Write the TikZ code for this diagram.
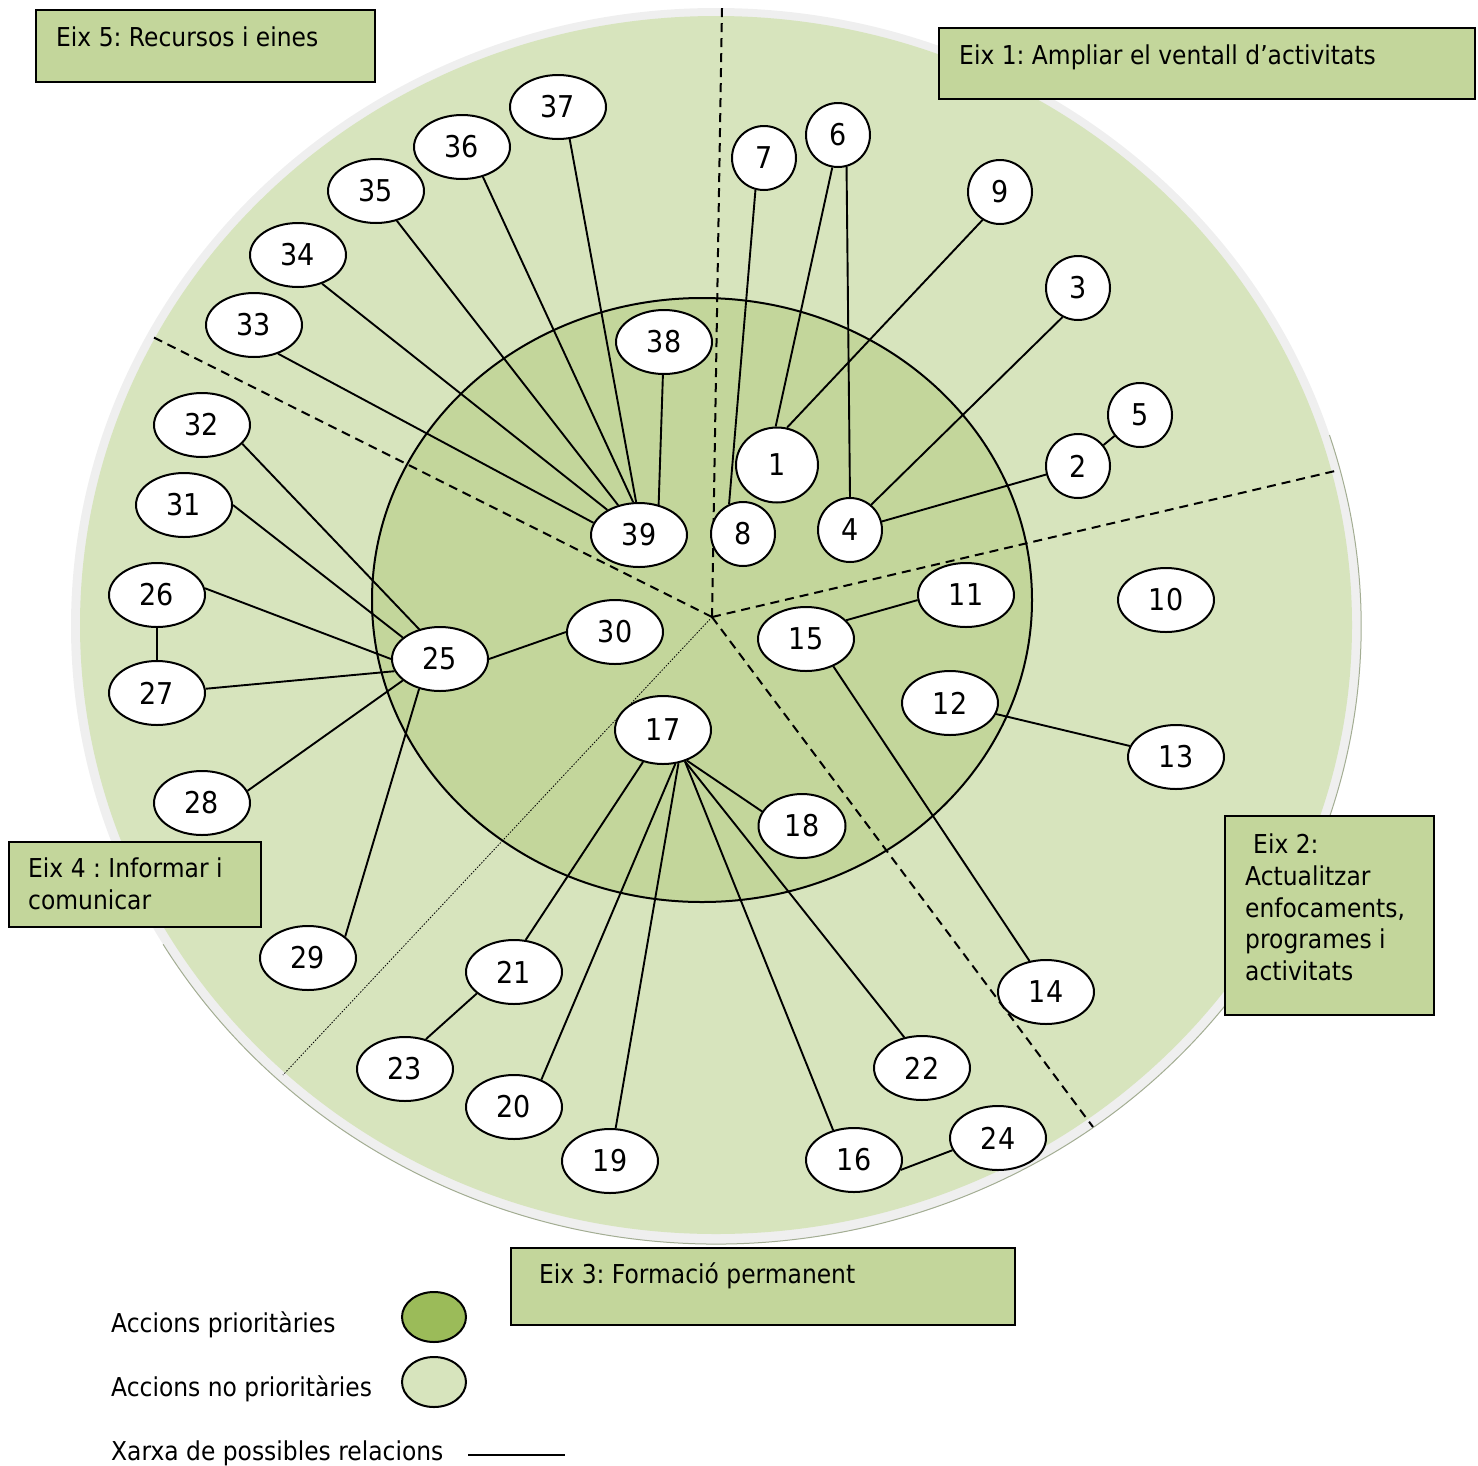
\documentclass[tikz,border=0pt]{standalone}
\usepackage{fontspec}
\setmainfont[FakeStretch=0.9]{DejaVu Sans}
\usetikzlibrary{shapes.geometric}
\definecolor{outerg}{HTML}{D7E4BD}
\definecolor{innerg}{HTML}{C3D69B}
\definecolor{prio}{HTML}{9BBB59}
\definecolor{ringg}{HTML}{EFEFEF}
\definecolor{rimg}{HTML}{A3AD93}
\tikzset{
  num/.style={ellipse, draw, line width=2pt, fill=white, inner sep=0pt,
    minimum width=96pt, minimum height=64pt, font=\fontsize{30}{30}\selectfont},
  onedig/.style={num, minimum width=64pt, minimum height=64pt},
  rel/.style={line width=1.9pt},
  sector/.style={line width=2pt, dash pattern=on 9pt off 6pt},
  sectordot/.style={line width=0.8pt, dash pattern=on 1.5pt off 1.5pt},
  axisbox/.style={draw, line width=2pt, fill=innerg, inner sep=0pt, anchor=north west},
  lbl/.style={anchor=base west, inner sep=0pt, font=\fontsize{26}{32}\selectfont}
}
\frenchspacing
\begin{document}
\begin{tikzpicture}[x=1pt,y=-1pt]
\useasboundingbox (0,0) rectangle (1478,1465);
% background rings
\fill[ringg] (716,626) ellipse [x radius=645, y radius=618];
\fill[outerg] (716,625) ellipse [x radius=636, y radius=609];
\draw[rimg, line width=1pt] (716,626) ++(-18:645 and 618) arc[start angle=-18, end angle=149, x radius=645, y radius=618];
\draw[line width=2pt, fill=innerg] (702,600) ellipse [x radius=330, y radius=302];
% sector lines
\coordinate (c0) at (712,617);
\coordinate (cT) at (722,8);
\coordinate (cR) at (1335,471);
\coordinate (cBR) at (1093,1127);
\coordinate (cL) at (153,337);
\coordinate (cBL) at (283,1075);
\draw[sector] (c0) -- (cT);
\draw[sector] (c0) -- (cR);
\draw[sector] (c0) -- (cBR);
\draw[sector] (c0) -- (cL);
\draw[sectordot] (c0) -- (cBL);
% axis boxes
\node[axisbox, minimum width=339pt, minimum height=72pt] (b5) at (35,9) {};
\node[axisbox, minimum width=536pt, minimum height=71pt] (b1) at (938,27) {};
\node[axisbox, minimum width=209pt, minimum height=199pt] (b2) at (1224,815) {};
\node[axisbox, minimum width=252pt, minimum height=85pt] (b4) at (8,841) {};
\node[axisbox, minimum width=504pt, minimum height=77pt] (b3) at (510,1247) {};
\node[lbl] (t5) at (56,46) {Eix 5: Recursos i eines};
\node[lbl] (t1) at (959,64) {Eix 1: Ampliar el ventall d’activitats};
\node[lbl] (t2a) at (1253,853) {Eix 2:};
\node[lbl] (t2b) at (1245,885) {Actualitzar};
\node[lbl] (t2c) at (1245,917) {enfocaments,};
\node[lbl] (t2d) at (1245,948) {programes i};
\node[lbl] (t2e) at (1245,980) {activitats};
\node[lbl] (t4a) at (28,877) {Eix 4 : Informar i};
\node[lbl] (t4b) at (28,909) {comunicar};
\node[lbl] (t3) at (539,1283) {Eix 3: Formació permanent};
% nodes
\node[num] (n37) at (558,107) {37};
\node[num] (n36) at (462,147) {36};
\node[num] (n35) at (376,191) {35};
\node[num] (n34) at (298,255) {34};
\node[num] (n33) at (254,325) {33};
\node[num] (n38) at (664,342) {38};
\node[onedig] (n7) at (764,158) {7};
\node[onedig] (n6) at (838,135) {6};
\node[onedig] (n9) at (1000,192) {9};
\node[onedig] (n3) at (1078,288) {3};
\node[onedig] (n5) at (1140,415) {5};
\node[onedig] (n2) at (1078,466) {2};
\node[num, minimum width=82pt, minimum height=75pt] (n1) at (777,465) {1};
\node[num] (n39) at (639,535) {39};
\node[onedig] (n8) at (743,534) {8};
\node[onedig] (n4) at (850,530) {4};
\node[num] (n32) at (202,425) {32};
\node[num] (n31) at (184,505) {31};
\node[num] (n26) at (157,595) {26};
\node[num] (n27) at (157,693) {27};
\node[num] (n25) at (440,659) {25};
\node[num] (n30) at (615,632) {30};
\node[num] (n11) at (966,595) {11};
\node[num] (n15) at (806,639) {15};
\node[num] (n10) at (1166,600) {10};
\node[num] (n12) at (950,703) {12};
\node[num] (n13) at (1176,757) {13};
\node[num, minimum height=68pt] (n17) at (663,730) {17};
\node[num, minimum width=87pt] (n18) at (802,826) {18};
\node[num] (n28) at (202,803) {28};
\node[num] (n29) at (308,958) {29};
\node[num] (n21) at (514,972) {21};
\node[num] (n23) at (405,1069) {23};
\node[num] (n20) at (514,1107) {20};
\node[num] (n19) at (610,1161) {19};
\node[num] (n16) at (854,1160) {16};
\node[num] (n24) at (998,1138) {24};
\node[num] (n22) at (922,1068) {22};
\node[num] (n14) at (1046,992) {14};
% relations
\draw[rel] (n33.-50) -- (n39.165);
\draw[rel] (n34.-50) -- (n39);
\draw[rel] (n35.-55) -- (n39.125);
\draw[rel] (n36.-55) -- (n39.100);
\draw[rel] (n37.-70) -- (n39.95);
\draw[rel] (n38) -- (n39.57);
\draw[rel] (n7.-105) -- (n8.115);
\draw[rel] (n6.-100) -- (n1.92);
\draw[rel] (n6.-75) -- (n4.north);
\draw[rel] (n9.-122) -- (n1.75);
\draw[rel] (n3.-118) -- (n4.50);
\draw[rel] (n5) -- (n2);
\draw[rel] (n2.-165) -- (n4.15);
\draw[rel] (n32.-25) -- (n25.125);
\draw[rel] (n31.east) -- (n25.150);
\draw[rel] (n26.8) -- (n25.west);
\draw[rel] (n27.5) -- (n25.195);
\draw[rel] (n26) -- (n27);
\draw[rel] (n28.15) -- (n25.-150);
\draw[rel] (n29.30) -- (n25.-125);
\draw[rel] (n30.west) -- (n25.east);
\draw[rel] (n11.186) -- (n15.25);
\draw[rel] (n15.-45) -- (n14.118);
\draw[rel] (n12) -- (n13);
\draw[rel] (n17.-52) -- (n18.160);
\draw[rel] (n17.-122) -- (n21.70);
\draw[rel] (n17.-70) -- (n20.45);
\draw[rel] (n17.-65) -- (n19);
\draw[rel] (n17.-55) -- (n16.125);
\draw[rel] (n17.-55) -- (n22.120);
\draw[rel] (n21.-150) -- (n23.55);
\draw[rel] (n16.-12) -- (n24.-165);
% legend
\node[lbl] (lt1) at (111,1332) {Accions prioritàries};
\node[lbl] (lt2) at (111,1396) {Accions no prioritàries};
\node[lbl] (lt3) at (111,1460) {Xarxa de possibles relacions};
\node[ellipse, draw, line width=2pt, fill=prio, minimum width=64pt, minimum height=50pt] (lg1) at (434,1317) {};
\node[ellipse, draw, line width=2pt, fill=outerg, minimum width=64pt, minimum height=50pt] (lg2) at (434,1382) {};
\coordinate (la) at (468,1455);
\coordinate (lb) at (565,1455);
\draw[line width=1.2pt] (la) -- (lb);
\end{tikzpicture}
\end{document}
